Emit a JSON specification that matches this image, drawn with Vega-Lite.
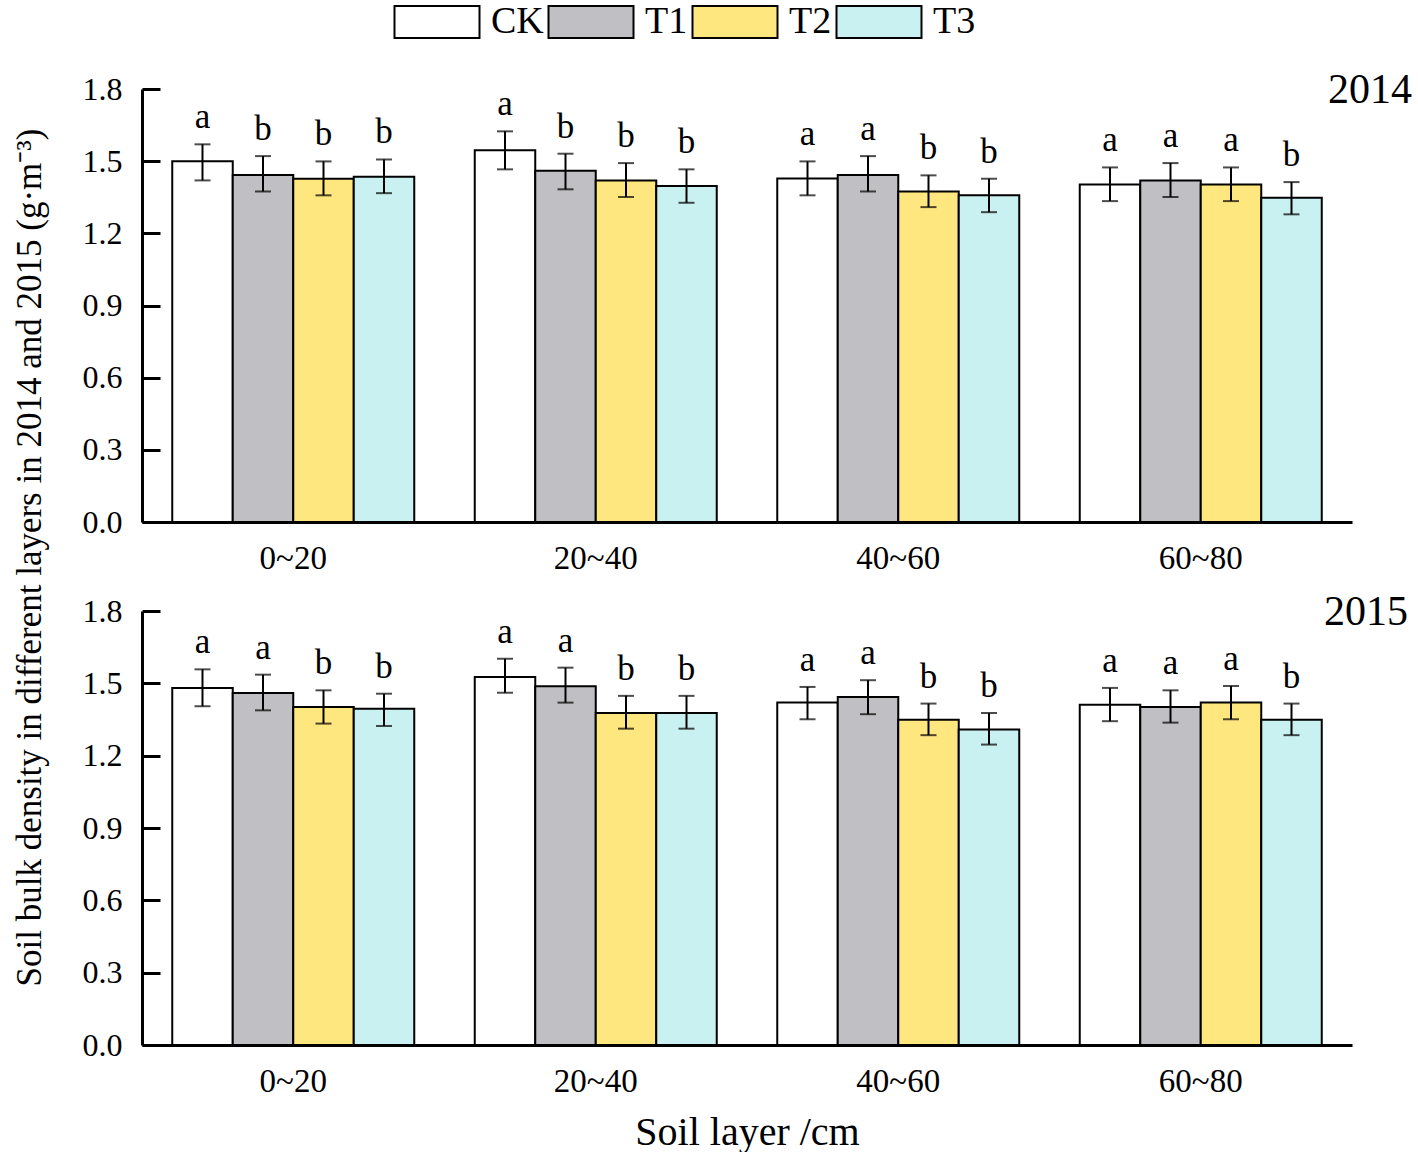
{
  "$schema": "https://vega.github.io/schema/vega-lite/v6.json",
  "padding": {"left": 12, "top": 3, "right": 2, "bottom": 2},
  "autosize": {"type": "pad"},
  "background": "white",
  "title": {"text": "Soil bulk density in different layers in 2014 and 2015 (g·m⁻³)", "orient": "left", "anchor": "middle", "fontSize": 35, "font": "Liberation Serif", "fontWeight": "normal", "color": "black", "offset": 34, "dx": 20},
  "config": {
    "font": "Liberation Serif",
    "view": {"stroke": null},
    "axis": {"labelFont": "Liberation Serif", "labelColor": "black", "domainColor": "black", "tickColor": "black", "grid": false},
    "title": {"font": "Liberation Serif", "fontWeight": "normal", "color": "black"}
  },
  "datasets": {
    "d": [
      {"year": "2014", "layer": "0~20", "trt": "CK", "value": 1.50, "lo": 1.42, "hi": 1.57, "sig": "a"},
      {"year": "2014", "layer": "0~20", "trt": "T1", "value": 1.443, "lo": 1.374, "hi": 1.521, "sig": "b"},
      {"year": "2014", "layer": "0~20", "trt": "T2", "value": 1.427, "lo": 1.358, "hi": 1.499, "sig": "b"},
      {"year": "2014", "layer": "0~20", "trt": "T3", "value": 1.435, "lo": 1.367, "hi": 1.507, "sig": "b"},
      {"year": "2014", "layer": "20~40", "trt": "CK", "value": 1.545, "lo": 1.466, "hi": 1.624, "sig": "a"},
      {"year": "2014", "layer": "20~40", "trt": "T1", "value": 1.46, "lo": 1.383, "hi": 1.531, "sig": "b"},
      {"year": "2014", "layer": "20~40", "trt": "T2", "value": 1.42, "lo": 1.351, "hi": 1.492, "sig": "b"},
      {"year": "2014", "layer": "20~40", "trt": "T3", "value": 1.397, "lo": 1.327, "hi": 1.466, "sig": "b"},
      {"year": "2014", "layer": "40~60", "trt": "CK", "value": 1.428, "lo": 1.358, "hi": 1.499, "sig": "a"},
      {"year": "2014", "layer": "40~60", "trt": "T1", "value": 1.443, "lo": 1.374, "hi": 1.521, "sig": "a"},
      {"year": "2014", "layer": "40~60", "trt": "T2", "value": 1.374, "lo": 1.309, "hi": 1.441, "sig": "b"},
      {"year": "2014", "layer": "40~60", "trt": "T3", "value": 1.358, "lo": 1.288, "hi": 1.427, "sig": "b"},
      {"year": "2014", "layer": "60~80", "trt": "CK", "value": 1.403, "lo": 1.334, "hi": 1.474, "sig": "a"},
      {"year": "2014", "layer": "60~80", "trt": "T1", "value": 1.42, "lo": 1.351, "hi": 1.492, "sig": "a"},
      {"year": "2014", "layer": "60~80", "trt": "T2", "value": 1.403, "lo": 1.334, "hi": 1.474, "sig": "a"},
      {"year": "2014", "layer": "60~80", "trt": "T3", "value": 1.348, "lo": 1.279, "hi": 1.413, "sig": "b"},
      {"year": "2015", "layer": "0~20", "trt": "CK", "value": 1.481, "lo": 1.405, "hi": 1.558, "sig": "a"},
      {"year": "2015", "layer": "0~20", "trt": "T1", "value": 1.46, "lo": 1.388, "hi": 1.536, "sig": "a"},
      {"year": "2015", "layer": "0~20", "trt": "T2", "value": 1.402, "lo": 1.333, "hi": 1.471, "sig": "b"},
      {"year": "2015", "layer": "0~20", "trt": "T3", "value": 1.395, "lo": 1.323, "hi": 1.457, "sig": "b"},
      {"year": "2015", "layer": "20~40", "trt": "CK", "value": 1.526, "lo": 1.461, "hi": 1.602, "sig": "a"},
      {"year": "2015", "layer": "20~40", "trt": "T1", "value": 1.488, "lo": 1.42, "hi": 1.565, "sig": "a"},
      {"year": "2015", "layer": "20~40", "trt": "T2", "value": 1.377, "lo": 1.312, "hi": 1.448, "sig": "b"},
      {"year": "2015", "layer": "20~40", "trt": "T3", "value": 1.377, "lo": 1.312, "hi": 1.448, "sig": "b"},
      {"year": "2015", "layer": "40~60", "trt": "CK", "value": 1.42, "lo": 1.351, "hi": 1.485, "sig": "a"},
      {"year": "2015", "layer": "40~60", "trt": "T1", "value": 1.443, "lo": 1.372, "hi": 1.513, "sig": "a"},
      {"year": "2015", "layer": "40~60", "trt": "T2", "value": 1.349, "lo": 1.285, "hi": 1.416, "sig": "b"},
      {"year": "2015", "layer": "40~60", "trt": "T3", "value": 1.309, "lo": 1.246, "hi": 1.377, "sig": "b"},
      {"year": "2015", "layer": "60~80", "trt": "CK", "value": 1.411, "lo": 1.343, "hi": 1.481, "sig": "a"},
      {"year": "2015", "layer": "60~80", "trt": "T1", "value": 1.402, "lo": 1.337, "hi": 1.471, "sig": "a"},
      {"year": "2015", "layer": "60~80", "trt": "T2", "value": 1.42, "lo": 1.351, "hi": 1.489, "sig": "a"},
      {"year": "2015", "layer": "60~80", "trt": "T3", "value": 1.349, "lo": 1.285, "hi": 1.416, "sig": "b"}
    ]
  },
  "spacing": 16,
  "vconcat": [
    {
      "width": 1210,
      "height": 433,
      "data": {"name": "d"},
      "transform": [{"filter": "datum.year === '2014'"}],
      "title": {"text": "2014", "frame": "group", "anchor": "end", "orient": "top", "baseline": "alphabetic", "offset": -16, "dx": 60, "dy": 56, "fontSize": 42, "font": "Liberation Serif", "fontWeight": "normal", "color": "black"},
      "encoding": {
        "x": {"field": "layer", "type": "nominal", "sort": ["0~20", "20~40", "40~60", "60~80"], "scale": {"paddingInner": 0.2, "paddingOuter": 0.1},
              "axis": {"title": null, "ticks": false, "labelAngle": 0, "labelFontSize": 33, "labelPadding": 20, "domainWidth": 3}},
        "xOffset": {"field": "trt", "sort": ["CK", "T1", "T2", "T3"], "scale": {"paddingInner": 0, "paddingOuter": 0}}
      },
      "layer": [
        {
          "mark": {"type": "bar", "stroke": "black", "strokeWidth": 2},
          "encoding": {
            "y": {"field": "value", "type": "quantitative", "scale": {"domain": [0, 1.8], "nice": false},
                  "axis": {"title": null, "values": [0, 0.3, 0.6, 0.9, 1.2, 1.5, 1.8], "format": ".1f", "labelFontSize": 32, "tickSize": -18, "tickWidth": 3, "domainWidth": 3, "labelPadding": 38}},
            "color": {"field": "trt", "type": "nominal", "scale": {"domain": ["CK", "T1", "T2", "T3"], "range": ["#FFFFFF", "#C0C0C4", "#FFE780", "#CAF1F1"]},
                      "legend": {"title": null, "orient": "none", "legendX": 276, "legendY": -86, "direction": "horizontal", "symbolType": "M-2.5,-0.94H2.5V0.94H-2.5Z", "symbolSize": 1156, "symbolStrokeColor": "black", "symbolStrokeWidth": 2, "symbolOpacity": 1, "labelFontSize": 38, "labelFont": "Liberation Serif", "labelColor": "black", "labelOffset": 35, "columnPadding": 0}}
          }
        },
        {
          "mark": {"type": "rule", "color": "black", "strokeWidth": 2},
          "encoding": {"y": {"field": "lo", "type": "quantitative"}, "y2": {"field": "hi"}}
        },
        {
          "mark": {"type": "tick", "color": "black", "thickness": 2, "size": 16},
          "encoding": {"y": {"field": "lo", "type": "quantitative"}}
        },
        {
          "mark": {"type": "tick", "color": "black", "thickness": 2, "size": 16},
          "encoding": {"y": {"field": "hi", "type": "quantitative"}}
        },
        {
          "mark": {"type": "text", "fontSize": 35, "baseline": "alphabetic", "dy": -16, "color": "black"},
          "encoding": {"y": {"field": "hi", "type": "quantitative"}, "text": {"field": "sig"}}
        }
      ]
    },
    {
      "width": 1210,
      "height": 434,
      "data": {"name": "d"},
      "transform": [{"filter": "datum.year === '2015'"}],
      "title": {"text": "2015", "frame": "group", "anchor": "end", "orient": "top", "baseline": "alphabetic", "offset": -16, "dx": 56, "dy": 56, "fontSize": 42, "font": "Liberation Serif", "fontWeight": "normal", "color": "black"},
      "encoding": {
        "x": {"field": "layer", "type": "nominal", "sort": ["0~20", "20~40", "40~60", "60~80"], "scale": {"paddingInner": 0.2, "paddingOuter": 0.1},
              "axis": {"title": "Soil layer /cm", "titleFontSize": 40, "titlePadding": 14, "titleFont": "Liberation Serif", "titleFontWeight": "normal", "titleColor": "black", "ticks": false, "labelAngle": 0, "labelFontSize": 33, "labelPadding": 20, "domainWidth": 3}},
        "xOffset": {"field": "trt", "sort": ["CK", "T1", "T2", "T3"], "scale": {"paddingInner": 0, "paddingOuter": 0}}
      },
      "layer": [
        {
          "mark": {"type": "bar", "stroke": "black", "strokeWidth": 2},
          "encoding": {
            "y": {"field": "value", "type": "quantitative", "scale": {"domain": [0, 1.8], "nice": false},
                  "axis": {"title": null, "values": [0, 0.3, 0.6, 0.9, 1.2, 1.5, 1.8], "format": ".1f", "labelFontSize": 32, "tickSize": -18, "tickWidth": 3, "domainWidth": 3, "labelPadding": 38}},
            "color": {"field": "trt", "type": "nominal", "scale": {"domain": ["CK", "T1", "T2", "T3"], "range": ["#FFFFFF", "#C0C0C4", "#FFE780", "#CAF1F1"]}}
          }
        },
        {
          "mark": {"type": "rule", "color": "black", "strokeWidth": 2},
          "encoding": {"y": {"field": "lo", "type": "quantitative"}, "y2": {"field": "hi"}}
        },
        {
          "mark": {"type": "tick", "color": "black", "thickness": 2, "size": 16},
          "encoding": {"y": {"field": "lo", "type": "quantitative"}}
        },
        {
          "mark": {"type": "tick", "color": "black", "thickness": 2, "size": 16},
          "encoding": {"y": {"field": "hi", "type": "quantitative"}}
        },
        {
          "mark": {"type": "text", "fontSize": 35, "baseline": "alphabetic", "dy": -16, "color": "black"},
          "encoding": {"y": {"field": "hi", "type": "quantitative"}, "text": {"field": "sig"}}
        }
      ]
    }
  ]
}
